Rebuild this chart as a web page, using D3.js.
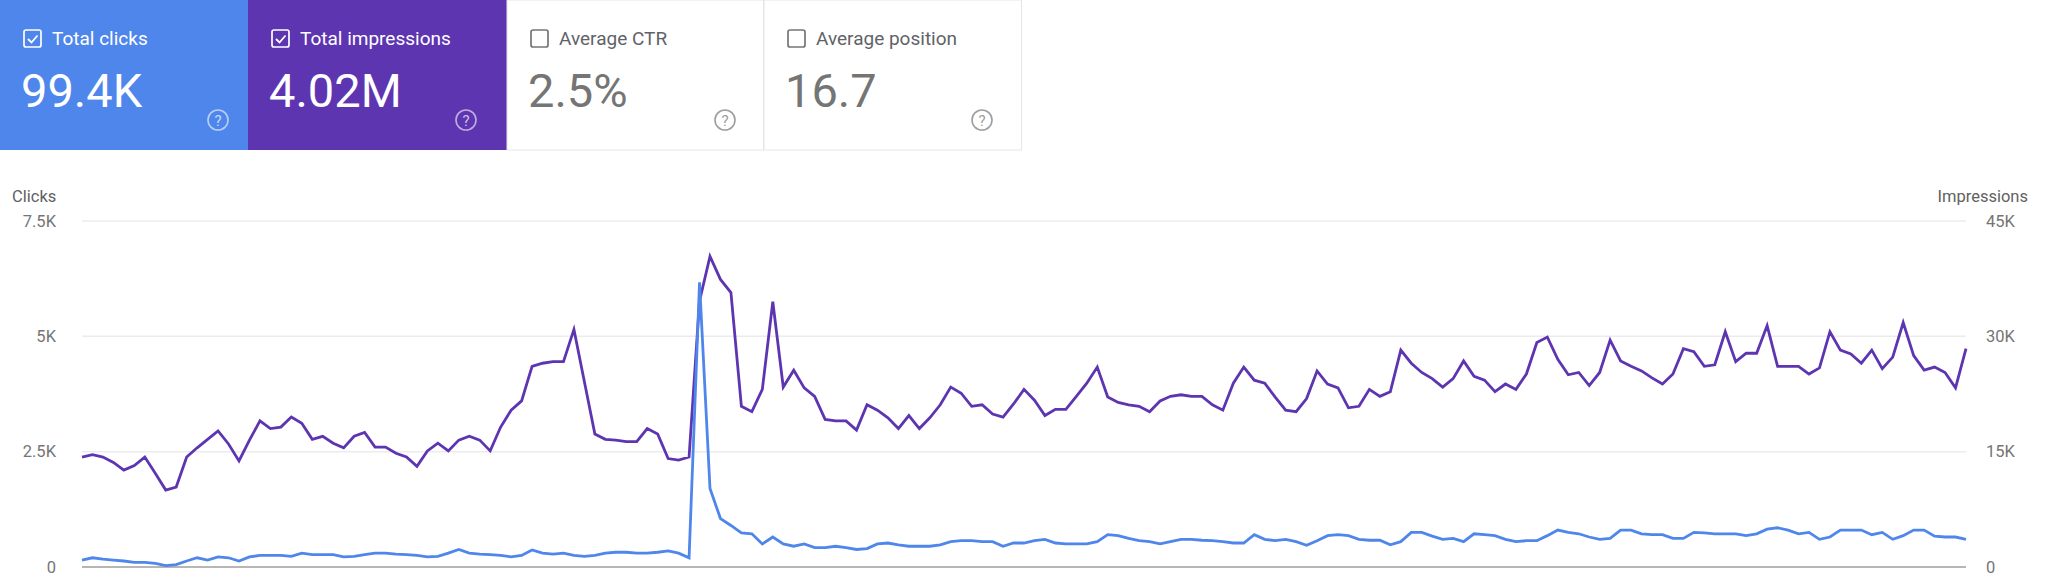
<!DOCTYPE html>
<html><head><meta charset="utf-8">
<script src="https://cdn.jsdelivr.net/npm/d3@7"></script>
<style>body{margin:0;background:#fff;font-family:Roboto,sans-serif}</style>
</head><body><svg id="c" width="2048" height="587"></svg>
<script>
const cardLabels=["Total clicks","Total impressions","Average CTR","Average position"];
const cardValues=["99.4K","4.02M","2.5%","16.7"];
const cardChecked=[true,true,false,false];
const clicksTicks=[0,2500,5000,7500];
const clicksTickLabels=["0","2.5K","5K","7.5K"];
const imprTicks=[0,15000,30000,45000];
const imprTickLabels=["0","15K","30K","45K"];
const impressions=[14.3,14.6,14.3,13.6,12.6,13.2,14.3,12.2,10.0,10.4,14.3,15.5,16.6,17.7,16.0,13.8,16.5,19.0,18.0,18.2,19.5,18.7,16.6,17.0,16.1,15.5,17.0,17.5,15.6,15.6,14.8,14.3,13.1,15.1,16.1,15.1,16.5,17.0,16.5,15.1,18.2,20.4,21.6,26.1,26.5,26.7,26.7,30.9,24.1,17.3,16.6,16.5,16.3,16.3,18.0,17.3,14.1,13.9,14.3,34.6,40.4,37.4,35.7,20.9,20.2,23.1,34.5,23.4,25.6,23.3,22.2,19.2,19.0,19.0,17.8,21.1,20.4,19.4,18.0,19.7,18.0,19.4,21.1,23.4,22.6,20.9,21.1,19.9,19.5,21.2,23.1,21.7,19.7,20.5,20.5,22.2,23.9,26.0,22.1,21.4,21.1,20.9,20.2,21.6,22.2,22.4,22.2,22.2,21.1,20.4,23.9,26.0,24.3,23.9,22.1,20.4,20.2,21.9,25.5,23.8,23.3,20.7,20.9,23.1,22.2,22.8,28.2,26.5,25.3,24.5,23.4,24.5,26.8,24.8,24.3,22.8,23.8,23.1,25.1,29.2,29.9,27.0,25.0,25.3,23.6,25.3,29.5,26.8,26.1,25.5,24.6,23.8,25.1,28.4,28.0,26.1,26.3,30.6,26.7,27.8,27.8,31.4,26.1,26.1,26.1,25.1,25.9,30.6,28.2,27.7,26.5,28.2,25.8,27.3,31.8,27.5,25.6,26.0,25.3,23.3,28.4];
const clicks=[0.15,0.2,0.17,0.15,0.13,0.1,0.1,0.08,0.03,0.05,0.13,0.2,0.15,0.22,0.2,0.13,0.22,0.25,0.25,0.25,0.23,0.3,0.27,0.27,0.27,0.22,0.23,0.27,0.3,0.3,0.28,0.27,0.25,0.22,0.23,0.3,0.38,0.3,0.28,0.27,0.25,0.22,0.25,0.37,0.3,0.28,0.3,0.25,0.23,0.25,0.3,0.32,0.32,0.3,0.3,0.32,0.35,0.3,0.2,6.17,1.7,1.05,0.9,0.74,0.72,0.5,0.65,0.5,0.45,0.5,0.42,0.42,0.45,0.42,0.38,0.4,0.5,0.52,0.48,0.45,0.45,0.45,0.48,0.55,0.57,0.57,0.55,0.55,0.45,0.52,0.52,0.57,0.6,0.52,0.5,0.5,0.5,0.55,0.7,0.68,0.62,0.57,0.55,0.5,0.55,0.6,0.6,0.58,0.57,0.55,0.52,0.52,0.7,0.6,0.57,0.6,0.55,0.47,0.57,0.68,0.7,0.68,0.6,0.58,0.58,0.48,0.55,0.75,0.75,0.67,0.6,0.62,0.55,0.72,0.7,0.68,0.6,0.55,0.57,0.57,0.68,0.8,0.75,0.72,0.65,0.6,0.62,0.8,0.8,0.72,0.7,0.7,0.62,0.62,0.75,0.74,0.72,0.72,0.72,0.68,0.72,0.82,0.85,0.8,0.72,0.75,0.6,0.65,0.8,0.8,0.8,0.7,0.75,0.6,0.68,0.8,0.8,0.67,0.65,0.65,0.6];

const svg=d3.select("#c");
const cardW=[248,259,257,258], bg=["#4f86ec","#5e35b1","#fff","#fff"];
let cx=0;
cardLabels.forEach((l,i)=>{
  const g=svg.append("g").attr("transform",`translate(${cx},0)`);
  const fg=i<2?"#fff":"#757575";
  g.append("rect").attr("width",cardW[i]).attr("height",150).attr("fill",bg[i]);
  if(i>=2) g.append("rect").attr("width",cardW[i]-0.5).attr("height",150).attr("fill","none").attr("stroke","#e6e6e6");
  g.append("rect").attr("x",24).attr("y",30).attr("width",17).attr("height",17).attr("rx",2).attr("fill","none").attr("stroke",fg).attr("stroke-width",1.7);
  if(cardChecked[i]) g.append("path").attr("d","M28 39 l3.5 3.5 l6 -7").attr("fill","none").attr("stroke",fg).attr("stroke-width",1.8);
  g.append("text").attr("x",52).attr("y",45).attr("fill",i<2?"#fff":"#5f6368").attr("font-size",19).text(l);
  g.append("text").attr("x",21).attr("y",107).attr("fill",i<2?"#fff":"#757575").attr("font-size",47).text(cardValues[i]);
  g.append("circle").attr("cx",218).attr("cy",120).attr("r",10).attr("fill","none").attr("stroke",i<2?"rgba(255,255,255,0.6)":"#9e9e9e").attr("stroke-width",1.6);
  g.append("text").attr("x",218).attr("y",125.5).attr("text-anchor","middle").attr("font-size",15).attr("fill",i<2?"rgba(255,255,255,0.7)":"#9e9e9e").text("?");
  cx+=cardW[i];
});

const x0=82,x1=1966,yT=221,yB=567;
const x=d3.scaleLinear().domain([0,impressions.length-1]).range([x0,x1]);
const yL=d3.scaleLinear().domain([0,7500]).range([yB,yT]);
const yR=d3.scaleLinear().domain([0,45000]).range([yB,yT]);
svg.append("g").selectAll("line").data(clicksTicks.slice(1)).join("line")
  .attr("x1",x0).attr("x2",x1).attr("y1",d=>yL(d)).attr("y2",d=>yL(d)).attr("stroke","#ececec").attr("stroke-width",1.5);
svg.append("line").attr("x1",x0).attr("x2",x1).attr("y1",yB).attr("y2",yB).attr("stroke","#9e9e9e").attr("stroke-width",1.5);
const lax=d3.axisLeft(yL).tickValues(clicksTicks).tickFormat((d,i)=>clicksTickLabels[i]).tickSize(0).tickPadding(0);
const la=svg.append("g").attr("transform","translate(56,0)").call(lax);
const rax=d3.axisRight(yR).tickValues(imprTicks).tickFormat((d,i)=>imprTickLabels[i]).tickSize(0).tickPadding(0);
const ra=svg.append("g").attr("transform","translate(1986,0)").call(rax);
[la,ra].forEach(a=>{a.select(".domain").remove();a.selectAll("text").attr("font-size",16.5).attr("fill","#757575").attr("font-family","Roboto");});
svg.append("text").attr("x",12).attr("y",202).attr("font-size",16.5).attr("fill","#616161").text("Clicks");
svg.append("text").attr("x",2028).attr("y",202).attr("text-anchor","end").attr("font-size",16.5).attr("fill","#616161").text("Impressions");

svg.append("path").datum(impressions).attr("fill","none").attr("stroke","#5e35b1").attr("stroke-width",2.8)
  .attr("d",d3.line().x((d,i)=>x(i)).y(d=>yR(d*1000)));
const xc=d3.scaleLinear().domain([0,clicks.length-1]).range([x0,x1]);
svg.append("path").datum(clicks).attr("fill","none").attr("stroke","#4f86ec").attr("stroke-width",2.8)
  .attr("d",d3.line().x((d,i)=>xc(i)).y(d=>yL(d*1000)));
</script></body></html>
